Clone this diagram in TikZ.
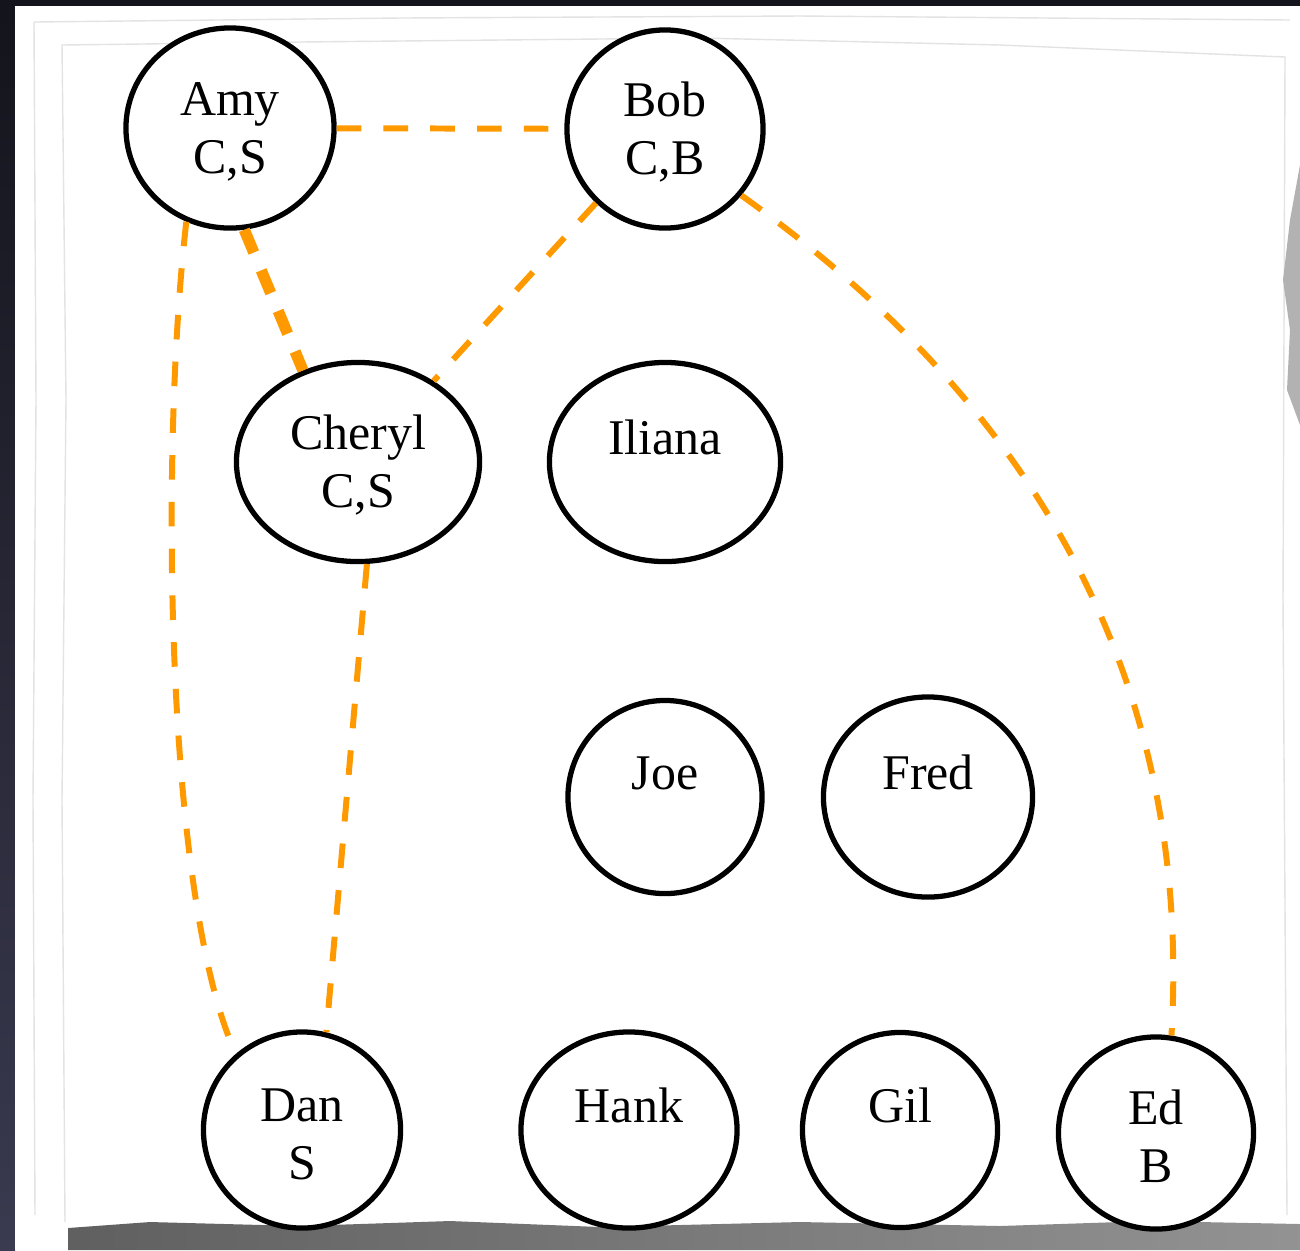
\documentclass[tikz,border=0pt]{standalone}
\usepackage{fontspec}
\setmainfont{Liberation Serif}
\usetikzlibrary{shapes.geometric}
\definecolor{edgeorange}{RGB}{255,153,0}
\definecolor{bgdark}{RGB}{20,20,28}
\definecolor{bgblue}{RGB}{58,58,80}
\newcommand{\oneline}[1]{\strut #1\\[-5.6pt]\strut}
\begin{document}
\begin{tikzpicture}[x=0.01cm,y=-0.01cm,
  person/.style={draw=black, line width=1.5pt, ellipse, inner sep=0pt, align=center,
    font=\fontsize{14.2}{16.6}\selectfont, fill=white},
  link/.style={draw=edgeorange, line width=1.7pt, dash pattern=on 7pt off 6.3pt},
  stronglink/.style={draw=edgeorange, line width=3.2pt, dash pattern=on 7pt off 5.5pt},
  tornline/.style={draw=gray!22, line width=0.4pt},
]
\useasboundingbox (0,0) rectangle (1300,1250);
% background and paper
\fill[bgdark] (0,0) rectangle (1300,1250);
\shade[top color=bgdark, bottom color=bgblue] (0,6) rectangle (15,1250);
\fill[white] (15,6) rectangle (1300,1250);
% torn paper edges
\draw[tornline] (35,1215) -- (33,800) -- (36,400) -- (34,22) -- (400,18) -- (800,16) -- (1290,20);
\draw[tornline] (65,1222) -- (62,800) -- (66,400) -- (62,45) -- (300,42) -- (700,38) -- (1000,45) -- (1285,57) -- (1283,600) -- (1287,1215);
% right shadow
\fill[gray!60] (1300,165) -- (1290,220) -- (1283,280) -- (1290,330) -- (1287,390) -- (1300,425) -- cycle;
% bottom shadow
\shade[left color=gray!75!black, right color=gray!85] (68,1228) -- (150,1222) -- (300,1226) -- (450,1221) -- (600,1227) -- (800,1222) -- (1000,1226) -- (1150,1221) -- (1300,1224) -- (1300,1250) -- (68,1250) -- cycle;
% nodes
\node[person, minimum width=2.08cm, minimum height=2.0cm] (amy) at (230,128) {\strut Amy\\C,S};
\node[person, minimum width=1.96cm, minimum height=1.98cm] (bob) at (665,129) {\strut Bob\\C,B};
\node[person, minimum width=2.43cm, minimum height=1.99cm] (cheryl) at (358,462) {\strut Cheryl\\C,S};
\node[person, minimum width=2.31cm, minimum height=1.99cm] (iliana) at (665,462) {\oneline{Iliana}};
\node[person, minimum width=1.94cm, minimum height=1.93cm] (joe) at (665,797) {\oneline{Joe}};
\node[person, minimum width=2.09cm, minimum height=2.0cm] (fred) at (928,797) {\oneline{Fred}};
\node[person, minimum width=1.97cm, minimum height=1.96cm] (dan) at (302,1130) {\strut Dan\\S};
\node[person, minimum width=2.16cm, minimum height=1.96cm] (hank) at (629,1130) {\oneline{Hank}};
\node[person, minimum width=1.95cm, minimum height=1.95cm] (gil) at (900,1130) {\oneline{Gil}};
\node[person, minimum width=1.95cm, minimum height=1.92cm] (ed) at (1156,1133) {\strut Ed\\B};
% connectors
\draw[link] (amy) -- (bob);
\draw[stronglink] (amy.278) -- (cheryl.121);
\draw[link] (bob.227) -- (cheryl.47);
\draw[link] (amy.245) .. controls (160,450) and (165,900) .. (dan.131);
\draw[link] (cheryl.275) -- (dan.76);
\draw[link] (bob.319) .. controls (1070,430) and (1190,720) .. (ed.81);
\end{tikzpicture}
\end{document}
